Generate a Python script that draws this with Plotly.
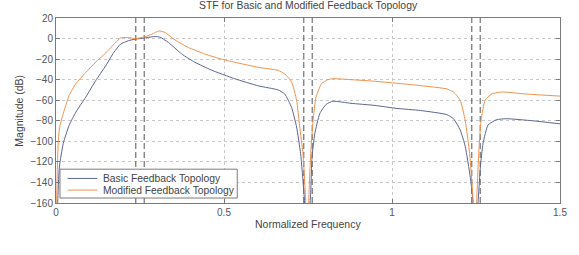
import plotly.graph_objects as go

# ---- data ----
basic_f = [0.0, 0.005, 0.010, 0.0217, 0.039, 0.059, 0.0886, 0.118, 0.148, 0.172, 0.192, 0.216,
           0.236, 0.264, 0.295, 0.310, 0.335, 0.374, 0.413, 0.462, 0.531, 0.602,
           0.661, 0.681, 0.701, 0.716, 0.728, 0.738, 0.748, 0.758, 0.762, 0.770, 0.785, 0.804,
           0.824, 0.878, 0.947, 1.015, 1.085, 1.163, 1.183, 1.203, 1.218, 1.233, 1.240, 1.247,
           1.257, 1.263, 1.271, 1.286, 1.311, 1.340, 1.419, 1.5]
basic_db = [-200, -160, -125, -102, -84.5, -71.6, -57, -41, -26.5, -13.5, -5.5, -2,
            -0.6, 0.6, 2, 1.3, -3.9, -15, -23, -30.6, -39, -46,
            -50, -54, -67, -86, -112, -150, -200, -150, -115, -93, -73, -64,
            -61, -63, -65, -68, -70, -74, -78, -89, -105, -135, -155, -200,
            -155, -125, -102, -84, -79, -78, -80, -83]

modified_f = [0.0, 0.003, 0.006, 0.010, 0.0197, 0.039, 0.059, 0.0886, 0.118, 0.148, 0.177, 0.192,
              0.212, 0.236, 0.264, 0.285, 0.307, 0.325, 0.354, 0.394, 0.443, 0.492, 0.531,
              0.602, 0.661, 0.681, 0.701, 0.716, 0.725, 0.735, 0.742, 0.748, 0.753, 0.758, 0.765,
              0.774, 0.790, 0.809, 0.824, 0.878, 0.947, 1.015, 1.085, 1.163, 1.183, 1.203, 1.218,
              1.231, 1.240, 1.247, 1.253, 1.258, 1.265, 1.277, 1.296, 1.326, 1.400, 1.5]
modified_db = [-200, -140, -105, -88, -75, -55.5, -44, -33, -23, -14, -4, 0.6,
               1, 0, 1.6, 4.2, 7.4, 5.8, -1.3, -8.7, -15, -20, -23,
               -28, -31, -34.5, -42, -60, -85, -112, -150, -200, -150, -112, -80,
               -57, -44, -40, -39, -40, -41.5, -43.5, -45.8, -49, -52, -60, -80,
               -112, -150, -200, -150, -112, -80, -60, -54, -52, -54, -56]

band_edges = [0.2375, 0.2625, 0.7375, 0.7625, 1.2375, 1.2625]
x_ticks = [0, 0.5, 1, 1.5]
y_ticks = [20, 0, -20, -40, -60, -80, -100, -120, -140, -160]

series_names = ["Basic Feedback Topology", "Modified Feedback Topology"]
title_text = "STF for Basic and Modified Feedback Topology"
x_title = "Normalized Frequency"
y_title = "Magnitude (dB)"

BLUE = "#5d6591"
ORANGE = "#ee9350"
TXT = "#444444"
FRAME = "#7a7a7a"
FONT = "Liberation Sans, Arial, sans-serif"

fig = go.Figure()

for e in band_edges:
    fig.add_trace(go.Scatter(x=[e, e], y=[-160, 20], mode="lines",
                             line=dict(color="#555555", width=1, dash="6px,3px"),
                             showlegend=False, hoverinfo="skip"))

fig.add_trace(go.Scatter(x=basic_f, y=basic_db, mode="lines", name=series_names[0],
                         line=dict(color=BLUE, width=1, shape="spline", smoothing=0.5),
                         showlegend=False))
fig.add_trace(go.Scatter(x=modified_f, y=modified_db, mode="lines", name=series_names[1],
                         line=dict(color=ORANGE, width=1, shape="spline", smoothing=0.5),
                         showlegend=False))

axis_common = dict(showline=True, linecolor=FRAME, linewidth=1, mirror="ticks",
                   ticks="inside", ticklen=4, tickcolor=FRAME,
                   showgrid=True, gridcolor="#c8c8c8", griddash="dot", gridwidth=1,
                   zeroline=False, tickfont=dict(family=FONT, size=10, color="#555555"))

fig.update_xaxes(range=[0, 1.5], tickvals=x_ticks, ticktext=[str(v) for v in x_ticks], **axis_common)
fig.update_yaxes(range=[-160, 20], tickvals=y_ticks,
                 ticktext=[str(v).replace("-", "\u2212") for v in y_ticks], **axis_common)

# hand-built legend (box, sample lines, labels) in paper coordinates
legend_rows_y = [0.1328, 0.0699]
legend_colors = [BLUE, ORANGE]
shapes = [dict(type="rect", xref="paper", yref="paper", x0=0.0079, x1=0.3596, y0=0.0269, y1=0.1828,
               line=dict(color=FRAME, width=1), fillcolor="white", layer="above")]
annotations = []
for name, col, ry in zip(series_names, legend_colors, legend_rows_y):
    shapes.append(dict(type="line", xref="paper", yref="paper", x0=0.023, x1=0.082, y0=ry, y1=ry,
                       line=dict(color=col, width=1), layer="above"))
    annotations.append(dict(text=name, xref="paper", yref="paper", x=0.0895, y=ry,
                            xanchor="left", yanchor="middle", showarrow=False,
                            font=dict(family=FONT, size=10.3, color=TXT)))

annotations += [
    dict(text=title_text, xref="paper", yref="paper", x=0.5, y=1.065,
         xanchor="center", yanchor="middle", showarrow=False,
         font=dict(family=FONT, size=10.4, color=TXT)),
    dict(text=x_title, xref="paper", yref="paper", x=0.5, y=-0.115,
         xanchor="center", yanchor="middle", showarrow=False,
         font=dict(family=FONT, size=10.5, color=TXT)),
    dict(text=y_title, xref="paper", yref="paper", x=-0.075, y=0.5,
         xanchor="center", yanchor="middle", showarrow=False, textangle=-90,
         font=dict(family=FONT, size=10.5, color=TXT)),
]

fig.update_layout(
    width=579, height=255,
    margin=dict(l=56, r=15, t=17, b=52),
    paper_bgcolor="white", plot_bgcolor="white",
    showlegend=False,
    shapes=shapes,
    annotations=annotations,
)

fig.write_html("out.html")
